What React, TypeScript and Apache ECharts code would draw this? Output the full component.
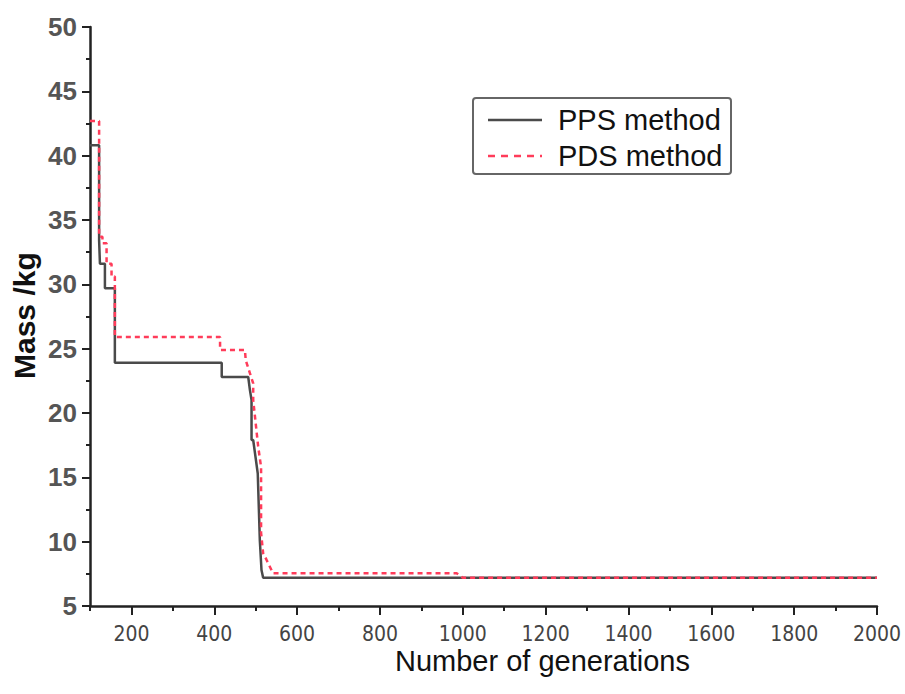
import React, { useEffect, useRef } from "react";
import * as echarts from "echarts";

// PPS method (solid) step curve
const ppsX = [100, 122, 122, 124, 136, 136, 160, 160, 418, 418, 482, 486, 490, 490, 494, 505, 510, 514, 518, 541, 2000];
const ppsY = [40.8, 40.8, 33.4, 31.6, 31.6, 29.7, 29.7, 23.9, 23.9, 22.8, 22.8, 21.8, 21.0, 17.9, 17.9, 15.3, 10.1, 7.8, 7.2, 7.2, 7.2];

// PDS method (dashed) step curve
const pdsX = [100, 122, 122, 130, 130, 140, 140, 152, 152, 160, 160, 414, 414, 474, 476, 486, 494, 494, 500, 506, 513, 513, 518, 526, 538, 541, 985, 1000, 2000];
const pdsY = [42.7, 42.7, 33.7, 33.7, 33.2, 33.2, 31.6, 31.6, 30.6, 30.6, 25.9, 25.9, 24.9, 24.9, 24.1, 23.1, 22.3, 21.0, 19.2, 17.4, 15.8, 10.7, 9.1, 8.6, 7.8, 7.55, 7.55, 7.2, 7.2];

const xMajorTicks = [200, 400, 600, 800, 1000, 1200, 1400, 1600, 1800, 2000];
const xMin = 100;
const xMax = 2000;
const yMin = 5;
const yMax = 50;
const yStep = 5;

const seriesNames = ["PPS method", "PDS method"];
const ppsColor = "#4a4a4a";
const pdsColor = "#ff3c5a";

function zip(xs: number[], ys: number[]) {
  return xs.map((x, i) => [x, ys[i]]);
}

export default function App() {
  const ref = useRef<HTMLDivElement>(null);
  useEffect(() => {
    if (!ref.current) return;
    const chart = echarts.init(ref.current, null, { renderer: "svg" });
    const axisColor = "#222";
    const font = "Liberation Sans, Arial, sans-serif";
    chart.setOption({
      animation: false,
      backgroundColor: "#fff",
      grid: { left: 90, right: 28, top: 27, bottom: 88, containLabel: false },
      xAxis: [
        {
          type: "value",
          min: xMin,
          max: xMax,
          interval: 100,
          axisLine: { show: true, onZero: false, lineStyle: { color: axisColor, width: 2.5 } },
          axisTick: { show: true, length: 5, lineStyle: { color: axisColor, width: 2 } },
          axisLabel: {
            customValues: xMajorTicks,
            formatter: (v: number) => String(v),
            margin: 17,
            fontSize: 21,
            lineHeight: 21,
            color: "#444",
            fontFamily: "Liberation Sans Narrow, DejaVu Sans Condensed, Arial Narrow, sans-serif",
          },
          splitLine: { show: false },
        },
        {
          type: "value",
          min: xMin,
          max: xMax,
          position: "bottom",
          axisLine: { show: false },
          axisTick: { show: true, customValues: xMajorTicks, length: 9, lineStyle: { color: axisColor, width: 2 } },
          axisLabel: { show: false },
          splitLine: { show: false },
        },
      ],
      yAxis: {
        type: "value",
        min: yMin,
        max: yMax,
        interval: yStep,
        axisLine: { show: true, onZero: false, lineStyle: { color: axisColor, width: 2.5 } },
        axisTick: { show: true, length: 8, lineStyle: { color: axisColor, width: 2 } },
        minorTick: { show: true, splitNumber: 2, length: 4, lineStyle: { color: axisColor, width: 2 } },
        axisLabel: {
          margin: 13,
          fontSize: 26,
          fontWeight: "bold",
          color: "#555",
          fontFamily: font,
        },
        splitLine: { show: false },
      },
      graphic: [
        {
          type: "text",
          left: 395,
          top: 646,
          style: {
            text: "Number of generations",
            fontSize: 29,
            lineHeight: 29,
            fill: "#111",
            fontFamily: font,
          },
        },
        {
          type: "text",
          x: 9,
          y: 379,
          rotation: Math.PI / 2,
          style: {
            text: "Mass /kg",
            fontSize: 30,
            fontWeight: "bold",
            fill: "#111",
            fontFamily: font,
          },
        },
        {
          type: "group",
          left: 472,
          top: 97,
          children: [
            {
              type: "rect",
              shape: { x: 0, y: 0, width: 258, height: 76, r: 3 },
              style: { fill: "#fff", stroke: "#666", lineWidth: 2 },
            },
            {
              type: "line",
              shape: { x1: 15, y1: 22, x2: 69, y2: 22 },
              style: { stroke: ppsColor, lineWidth: 2.5 },
            },
            {
              type: "line",
              shape: { x1: 15, y1: 58, x2: 69, y2: 58 },
              style: { stroke: pdsColor, lineWidth: 2.5, lineDash: [7, 6] },
            },
            {
              type: "text",
              x: 85,
              y: 22,
              style: { text: seriesNames[0], fontSize: 29, fill: "#111", fontFamily: font, verticalAlign: "middle" },
            },
            {
              type: "text",
              x: 85,
              y: 58,
              style: { text: seriesNames[1], fontSize: 29, fill: "#111", fontFamily: font, verticalAlign: "middle" },
            },
          ],
        },
      ],
      series: [
        {
          name: seriesNames[0],
          type: "line",
          data: zip(ppsX, ppsY),
          showSymbol: false,
          symbol: "none",
          lineStyle: { color: ppsColor, width: 2.5 },
          itemStyle: { color: ppsColor },
          z: 2,
        },
        {
          name: seriesNames[1],
          type: "line",
          data: zip(pdsX, pdsY),
          showSymbol: false,
          symbol: "none",
          lineStyle: { color: pdsColor, width: 2.5, type: [5, 4] },
          itemStyle: { color: pdsColor },
          z: 3,
        },
      ],
    });
    return () => chart.dispose();
  }, []);
  return <div ref={ref} style={{ position: "fixed", left: 0, top: 0, width: 905, height: 694 }} />;
}
